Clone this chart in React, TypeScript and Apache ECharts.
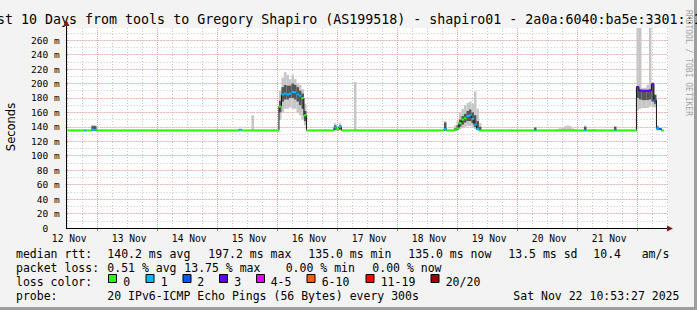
import React, { useEffect, useRef } from 'react';
import * as echarts from 'echarts';

const TITLE = 'Last 10 Days from tools to Gregory Shapiro (AS199518) - shapiro01 - 2a0a:6040:ba5e:3301::1';

// hourly slots, slot 0 = 12 Nov 12:00, slot 240 = 22 Nov 12:00
const FIRST_DAY = 12;
const FIRST_HOUR = 12;
const SLOTS = 240;

const dayLabels = ['12 Nov', '13 Nov', '14 Nov', '15 Nov', '16 Nov', '17 Nov', '18 Nov', '19 Nov', '20 Nov', '21 Nov'];

// median rtt (ms), one value per hour
const median = [
  135, 135, 135, 135, 135, 135, 135, 135, 135, 135, 136, 136, 135, 135, 135, 135, 135, 135, 135, 135, 135, 135, 135, 135,
  135, 135, 135, 135, 135, 135, 135, 135, 135, 135, 135, 135, 135, 135, 135, 135, 135, 135, 135, 135, 135, 135, 135, 135,
  135, 135, 135, 135, 135, 135, 135, 135, 135, 135, 135, 135, 135, 135, 135, 135, 135, 135, 135, 135, 135, 136, 135, 135,
  135, 135, 135, 135, 135, 135, 135, 135, 135, 135, 135, 135, 135, 168, 185, 186, 185, 186, 188, 188, 185, 183, 180, 156,
  135, 135, 135, 135, 135, 135, 135, 135, 135, 135, 135, 139, 137, 140, 135, 135, 135, 135, 135, 135, 135, 135, 135, 135,
  135, 135, 135, 135, 135, 135, 135, 135, 135, 135, 135, 135, 135, 135, 135, 135, 135, 135, 135, 135, 135, 135, 135, 135,
  135, 135, 135, 135, 135, 135, 135, 137, 135, 135, 135, 136, 138, 145, 150, 152, 155, 156, 151, 143, 137, 135, 135, 135,
  135, 135, 135, 135, 135, 135, 135, 135, 135, 135, 135, 135, 135, 135, 135, 135, 135, 135, 135, 135, 135, 135, 135, 135,
  135, 135, 135, 135, 135, 135, 135, 135, 135, 135, 135, 135, 135, 135, 135, 135, 135, 135, 135, 135, 135, 135, 135, 135,
  135, 135, 135, 135, 135, 135, 135, 135, 135, 135, 135, 135, 195, 190, 190, 190, 190, 190, 199, 177, 138, 137, 135,
];

// loss class per hour (index into lossColors)
const lossClass = [
  0, 0, 0, 0, 0, 0, 0, 1, 0, 0, 1, 1, 0, 0, 0, 0, 0, 0, 0, 0, 0, 0, 0, 0,
  0, 0, 0, 0, 0, 0, 0, 0, 0, 0, 0, 0, 0, 0, 0, 0, 0, 0, 0, 0, 0, 0, 0, 0,
  0, 0, 0, 0, 0, 0, 0, 0, 0, 0, 0, 0, 0, 0, 0, 0, 0, 0, 0, 0, 0, 1, 0, 0,
  0, 0, 0, 0, 0, 0, 0, 0, 0, 0, 0, 0, 0, 0, 1, 1, 1, 1, 1, 1, 1, 1, 0, 0,
  0, 0, 0, 0, 0, 0, 0, 0, 0, 0, 0, 1, 0, 1, 0, 0, 0, 0, 0, 0, 0, 0, 0, 0,
  0, 0, 0, 0, 0, 0, 0, 0, 0, 0, 0, 0, 0, 0, 0, 0, 0, 0, 0, 0, 0, 0, 0, 0,
  0, 0, 0, 0, 0, 0, 0, 1, 0, 0, 0, 0, 0, 0, 0, 0, 1, 1, 1, 1, 1, 0, 0, 0,
  0, 0, 0, 0, 0, 0, 0, 0, 0, 0, 0, 0, 0, 0, 0, 0, 0, 0, 0, 1, 0, 0, 0, 0,
  0, 0, 0, 0, 0, 0, 0, 0, 0, 0, 0, 0, 0, 0, 0, 1, 0, 0, 0, 0, 0, 0, 0, 0,
  0, 0, 0, 1, 0, 0, 0, 0, 0, 0, 0, 0, 3, 3, 3, 3, 3, 3, 3, 2, 1, 2, 0,
];

// smoke: [slot, min, lower quartile, upper quartile, max]
const smokeBands: (number | null)[][] = [
  [10, 135, 135, 141, 143],
  [11, 135, 135, 141, 142],
  [74, 135, null, null, 156],
  [85, 150, 160, 176, 190],
  [86, 160, 175, 195, 208],
  [87, 165, 178, 198, 216],
  [88, 165, 178, 197, 212],
  [89, 167, 180, 197, 206],
  [90, 165, 180, 200, 212],
  [91, 165, 178, 198, 206],
  [92, 160, 175, 195, 200],
  [93, 156, 170, 190, 198],
  [94, 150, 165, 186, 192],
  [95, 142, 148, 162, 172],
  [103, 135, null, null, 137],
  [107, 135, 136, 142, 145],
  [108, 135, 135, 137, 140],
  [109, 135, 136, 142, 145],
  [115, 135, null, null, 202],
  [151, 135, 135, 146, 148],
  [155, 135, 135, 138, 142],
  [156, 135, 136, 142, 148],
  [157, 137, 140, 150, 160],
  [158, 138, 143, 155, 165],
  [159, 140, 146, 158, 170],
  [160, 141, 148, 162, 173],
  [161, 141, 148, 164, 175],
  [162, 139, 145, 160, 172],
  [163, 137, 140, 156, 189],
  [164, 135, 136, 148, 165],
  [165, 135, 135, 140, 145],
  [187, 135, 135, 139, 140],
  [196, 135, null, null, 137],
  [197, 135, null, null, 138],
  [198, 135, null, null, 139],
  [199, 135, null, null, 141],
  [200, 135, null, null, 142],
  [201, 135, null, null, 141],
  [202, 135, null, null, 138],
  [203, 135, null, null, 137],
  [207, 135, 135, 140, 142],
  [210, 135, null, null, 137],
  [211, 135, null, null, 137],
  [219, 135, 135, 140, 141],
  [228, 163, 180, 196, 277],
  [229, 165, 178, 192, 277],
  [230, 166, 177, 190, 194],
  [231, 166, 177, 190, 194],
  [232, 166, 177, 191, 198],
  [233, 168, 178, 192, 277],
  [234, 167, 175, 200, 202],
  [235, 167, 172, 184, 186],
  [236, 135, 136, 140, 142],
];

const lossColors = ['#26ff00', '#00b8ff', '#0059ff', '#5e00ff', '#dd00ff', '#ff5e00', '#ff0000', '#a10000'];
const lossLabels = ['0', '1', '2', '3', '4-5', '6-10', '11-19', '20/20'];

const statRow1 = ['median rtt:', '140.2 ms avg', '197.2 ms max', '135.0 ms min', '135.0 ms now', '13.5 ms sd', '10.4', 'am/s'];
const statRow2 = ['packet loss:', '0.51 % avg', '13.75 % max', '0.00 % min', '0.00 % now'];
const probeRow = ['probe:', '20 IPv6-ICMP Echo Pings (56 Bytes) every 300s', 'Sat Nov 22 10:53:27 2025'];

const Y_MAX = 276.8;

const row1X = [16, 107.3, 208.3, 308.3, 408.3, 508.3, 593.3, 641.7];
const row2X = [16, 107.3, 184.3, 285.7, 372.3];
const row4X = [16, 107.3, 513.3];
const boxX = [108.5, 146, 183, 219.5, 256.5, 307, 366, 431];
const boxLabelX = [123.3, 160.7, 197.3, 234.3, 270.7, 321.7, 380.7, 445.7];

const MONO = '"DejaVu Sans Mono", monospace';
const MAJOR = '#f2a4a4';
const MINOR = '#c8c8c8';

export default function App() {
  const ref = useRef<HTMLDivElement>(null);

  useEffect(() => {
    const chart = echarts.init(ref.current!, null, { renderer: 'svg' });

    const categories = Array.from({ length: SLOTS + 1 }, (_, i) => {
      const h = FIRST_HOUR + i;
      return `${FIRST_DAY + Math.floor(h / 24)} Nov ${String(h % 24).padStart(2, '0')}:00`;
    });
    const hourOf = (i: number) => (FIRST_HOUR + i) % 24;

    const outerData = smokeBands.map((b) => [b[0], b[1], b[4]]);
    const innerData = smokeBands.filter((b) => b[2] !== null).map((b) => [b[0], b[2], b[3]]);
    const medData = median.map((v, i) => [i, v, lossClass[i]]);

    const bandItem = (color: string) => (params: any, api: any) => {
      const i = api.value(0);
      const top = api.coord([i, api.value(2)]);
      const bot = api.coord([i, api.value(1)]);
      const w = api.size([1, 0])[0];
      return {
        type: 'rect',
        shape: { x: top[0] - w / 2, y: top[1], width: w, height: Math.max(bot[1] - top[1], 0) },
        style: { fill: color },
      };
    };

    const txt = (text: string, x: number, y: number, size = 11.5, extra: any = {}) => ({
      type: 'text',
      x,
      y,
      silent: true,
      style: {
        text,
        fill: '#000',
        fontSize: size,
        fontFamily: MONO,
        verticalAlign: 'middle',
        align: 'left',
        ...extra,
      },
    });

    const graphics: any[] = [
      { type: 'rect', shape: { x: 694, y: 0, width: 3, height: 310 }, style: { fill: '#9e9e9e' }, silent: true },
      { type: 'rect', shape: { x: 0, y: 307, width: 697, height: 3 }, style: { fill: '#9e9e9e' }, silent: true },
      txt(TITLE, -19, 19.4, 13.3),
      {
        type: 'text', x: 11, y: 127, rotation: Math.PI / 2, silent: true,
        style: { text: 'Seconds', fill: '#000', fontSize: 11.5, fontFamily: '"DejaVu Sans", sans-serif', align: 'center', verticalAlign: 'middle' },
      },
      {
        type: 'text', x: 688.5, y: 63, rotation: -Math.PI / 2, silent: true,
        style: { text: 'RRDTOOL / TOBI OETIKER', fill: '#a4a4a4', fontSize: 8, fontFamily: MONO, align: 'center', verticalAlign: 'middle' },
      },
      // axes with arrows
      { type: 'line', shape: { x1: 66.5, y1: 228.5, x2: 669, y2: 228.5 }, style: { stroke: '#000', lineWidth: 1 }, silent: true, z: 10 },
      { type: 'polygon', shape: { points: [[667, 225.5], [673, 228.5], [667, 231.5]] }, style: { fill: '#7f1d1d' }, silent: true, z: 10 },
      { type: 'line', shape: { x1: 66.5, y1: 229, x2: 66.5, y2: 25 }, style: { stroke: '#000', lineWidth: 1 }, silent: true, z: 10 },
      { type: 'polygon', shape: { points: [[63.5, 26], [66.5, 20], [69.5, 26]] }, style: { fill: '#7f1d1d' }, silent: true, z: 10 },
    ];

    statRow1.forEach((t, k) => graphics.push(txt(t, row1X[k], 253.5)));
    statRow2.forEach((t, k) => graphics.push(txt(t, row2X[k], 267.5)));
    graphics.push(txt('loss color:', 16, 281.5));
    lossLabels.forEach((t, k) => {
      graphics.push({
        type: 'rect', silent: true,
        shape: { x: boxX[k], y: 274.5, width: 8, height: 8 },
        style: { fill: lossColors[k], stroke: '#000', lineWidth: 1 },
      });
      graphics.push(txt(t, boxLabelX[k], 281.5));
    });
    probeRow.forEach((t, k) => graphics.push(txt(t, row4X[k], 295.5)));

    const option: any = {
      animation: false,
      backgroundColor: '#f3f3f3',
      grid: {
        left: 67.7, right: 29.3, top: 28, bottom: 82,
        show: true, backgroundColor: '#ffffff', borderWidth: 0,
      },
      xAxis: [
        {
          type: 'category', data: categories, boundaryGap: false, position: 'bottom',
          axisLine: { show: false },
          axisTick: { show: false },
          axisLabel: { show: false },
          splitLine: {
            show: true,
            interval: (i: number) => hourOf(i) % 6 === 0 && hourOf(i) !== 0,
            lineStyle: { color: MINOR, type: [1, 2], width: 1 },
          },
        },
        {
          type: 'category', data: categories, boundaryGap: false, position: 'bottom',
          axisLine: { show: false },
          axisTick: {
            show: true, length: 3, interval: (i: number) => hourOf(i) === 0,
            lineStyle: { color: '#e07070' },
          },
          axisLabel: {
            show: true, margin: 5, padding: [0, 0, 0, 3],
            interval: (i: number) => hourOf(i) === 12 && i < SLOTS,
            formatter: (_v: string, i: number) => dayLabels[Math.floor(i / 24)] ?? '',
            color: '#000', fontSize: 9.6, fontFamily: MONO,
          },
          splitLine: {
            show: true,
            interval: (i: number) => hourOf(i) === 0,
            lineStyle: { color: MAJOR, type: [1, 1], width: 1 },
          },
        },
      ],
      yAxis: [
        {
          type: 'value', min: 0, max: Y_MAX, interval: 10, position: 'left',
          axisLine: { show: false }, axisTick: { show: false }, axisLabel: { show: false },
          splitLine: { show: true, showMaxLine: false, lineStyle: { color: MINOR, type: [1, 2], width: 1 } },
        },
        {
          type: 'value', min: 0, max: Y_MAX, interval: 20, position: 'left', offset: 0,
          axisLine: { show: false },
          axisTick: { show: true, length: 2, lineStyle: { color: '#e07070' } },
          axisLabel: {
            show: true, margin: 8, showMaxLabel: false,
            color: '#000', fontSize: 9.5, fontFamily: MONO,
            formatter: (v: number) => (v % 20 !== 0 ? '' : v === 0 ? '{z|0}' : `${v} m`),
            rich: { z: { fontSize: 9.5, fontFamily: MONO, color: '#000', padding: [0, 11.4, 0, 0] } },
          },
          splitLine: { show: true, showMaxLine: false, lineStyle: { color: MAJOR, type: [1, 1], width: 1 } },
        },
      ],
      series: [
        {
          type: 'custom', name: 'smoke', xAxisIndex: 0, yAxisIndex: 0, clip: true, z: 2,
          renderItem: bandItem('#c6c6c6'), data: outerData, silent: true,
        },
        {
          type: 'custom', name: 'smoke core', xAxisIndex: 0, yAxisIndex: 0, clip: true, z: 3,
          renderItem: bandItem('#555555'), data: innerData, silent: true,
        },
        {
          type: 'line', name: 'median', xAxisIndex: 0, yAxisIndex: 0, data: median, step: 'middle',
          symbol: 'none', lineStyle: { color: '#111', width: 1 }, z: 4, silent: true,
        },
        {
          type: 'custom', name: 'loss', xAxisIndex: 0, yAxisIndex: 0, clip: true, z: 5, silent: true,
          data: medData,
          renderItem: (params: any, api: any) => {
            const i = api.value(0);
            const p = api.coord([i, api.value(1)]);
            const w = api.size([1, 0])[0];
            return {
              type: 'rect',
              shape: { x: p[0] - w / 2 - 0.2, y: p[1] - 1, width: w + 0.4, height: 2 },
              style: { fill: lossColors[api.value(2)] },
            };
          },
        },
      ],
      graphic: graphics,
    };

    chart.setOption(option);
    return () => chart.dispose();
  }, []);

  return <div ref={ref} style={{ position: 'absolute', left: 0, top: 0, width: 697, height: 310 }} />;
}
